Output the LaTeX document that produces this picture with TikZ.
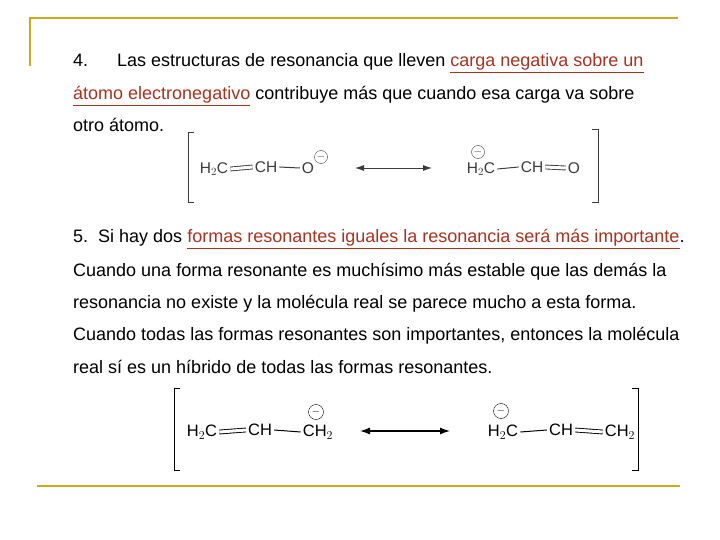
\documentclass[tikz,border=0pt]{standalone}
\usepackage{fontspec}
\setmainfont{Liberation Sans}
\usetikzlibrary{arrows.meta}
\definecolor{gold}{RGB}{204,170,30}
\definecolor{redt}{RGB}{170,50,30}
\definecolor{chem}{RGB}{60,60,60}
\newcommand{\redul}[1]{\textcolor{redt}{\underline{#1}}}
\begin{document}
\begin{tikzpicture}[x=1pt,y=-1pt,
  txt/.style={anchor=base west,inner sep=0pt,font=\fontsize{18}{21}\selectfont},
  atom/.style={inner sep=2pt,font=\fontsize{15.5}{17}\selectfont,text=chem},
  atomb/.style={inner sep=2pt,font=\fontsize{16.5}{18}\selectfont,text=black},
  minus/.style={circle,draw,inner sep=0pt,minimum size=13pt,font=\fontsize{11}{11}\selectfont},
  bond/.style={draw,line width=1pt},
  dbl/.style={draw,double,double distance=3pt,line width=0.9pt},
  brk/.style={draw,line width=1pt,chem},
  frame/.style={draw=gold,line width=2.5pt}]
\useasboundingbox (0,0) rectangle (720,540);
\fill[white] (0,0) rectangle (720,540);
\coordinate (f1) at (30,66); \coordinate (f2) at (30,18); \coordinate (f3) at (678,18);
\draw[frame] (f1) -- (f2) -- (f3);
\coordinate (g1) at (37,486); \coordinate (g2) at (680,486);
\draw[frame] (g1) -- (g2);
% text
\node[txt] (t1) at (73,67) {4.};
\node[txt] (t1b) at (117,67) {Las estructuras de resonancia que lleven \redul{carga negativa sobre un}};
\node[txt] (t2) at (73,100) {\redul{átomo electronegativo} contribuye más que cuando esa carga va sobre};
\node[txt] (t3) at (73,132) {otro átomo.};
\node[txt] (t4) at (73,243) {5.\ \ Si hay dos \redul{formas resonantes iguales la resonancia será más importante}.};
\node[txt] (t5) at (73,276) {Cuando una forma resonante es muchísimo más estable que las demás la};
\node[txt] (t6) at (73,308) {resonancia no existe y la molécula real se parece mucho a esta forma.};
\node[txt] (t7) at (73,340) {Cuando todas las formas resonantes son importantes, entonces la molécula};
\node[txt] (t8) at (73,373) {real sí es un híbrido de todas las formas resonantes.};
% structure 1
\draw[brk] (194,133) -- (188,133) -- (188,203) -- (194,203);
\draw[brk] (592,130) -- (598,130) -- (598,203) -- (592,203);
\node[atom] (a1) at (214,169) {H$_2$C};
\node[atom] (a2) at (266,167) {CH};
\node[atom] (a3) at (308,168) {O};
\node[minus,chem] (m1) at (321,157) {$-$};
\draw[dbl,chem] (a1.east) -- (a2.west);
\draw[bond,chem] (a2.east) -- (a3.west);
\coordinate (r1) at (355,168); \coordinate (r2) at (432,168);
\draw[chem,line width=0.9pt,{Latex[length=9pt,width=6pt]}-{Latex[length=9pt,width=6pt]}] (r1) -- (r2);
\node[atom] (b1) at (481,169) {H$_2$C};
\node[atom] (b2) at (532,167) {CH};
\node[atom] (b3) at (574,168) {O};
\node[minus,chem] (m2) at (478,152) {$-$};
\draw[bond,chem] (b1.east) -- (b2.west);
\draw[dbl,chem] (b2.east) -- (b3.west);
% structure 2
\draw[brk,black] (180,388) -- (174,388) -- (174,470) -- (180,470);
\draw[brk,black] (632,388) -- (638,388) -- (638,470) -- (632,470);
\node[atomb] (c1) at (202,432) {H$_2$C};
\node[atomb] (c2) at (260,430) {CH};
\node[atomb] (c3) at (318,432) {CH$_2$};
\node[minus,black,minimum size=15pt] (m3) at (316,412) {$-$};
\draw[dbl,black] (c1.east) -- (c2.west);
\draw[bond,black] (c2.east) -- (c3.west);
\coordinate (s1) at (360,431); \coordinate (s2) at (450,431);
\draw[black,line width=1.3pt,{Latex[length=10pt,width=7pt]}-{Latex[length=10pt,width=7pt]}] (s1) -- (s2);
\node[atomb] (d1) at (503,432) {H$_2$C};
\node[atomb] (d2) at (561,430) {CH};
\node[atomb] (d3) at (620,432) {CH$_2$};
\node[minus,black,minimum size=15pt] (m4) at (501,411) {$-$};
\draw[bond,black] (d1.east) -- (d2.west);
\draw[dbl,black] (d2.east) -- (d3.west);
\end{tikzpicture}
\end{document}
